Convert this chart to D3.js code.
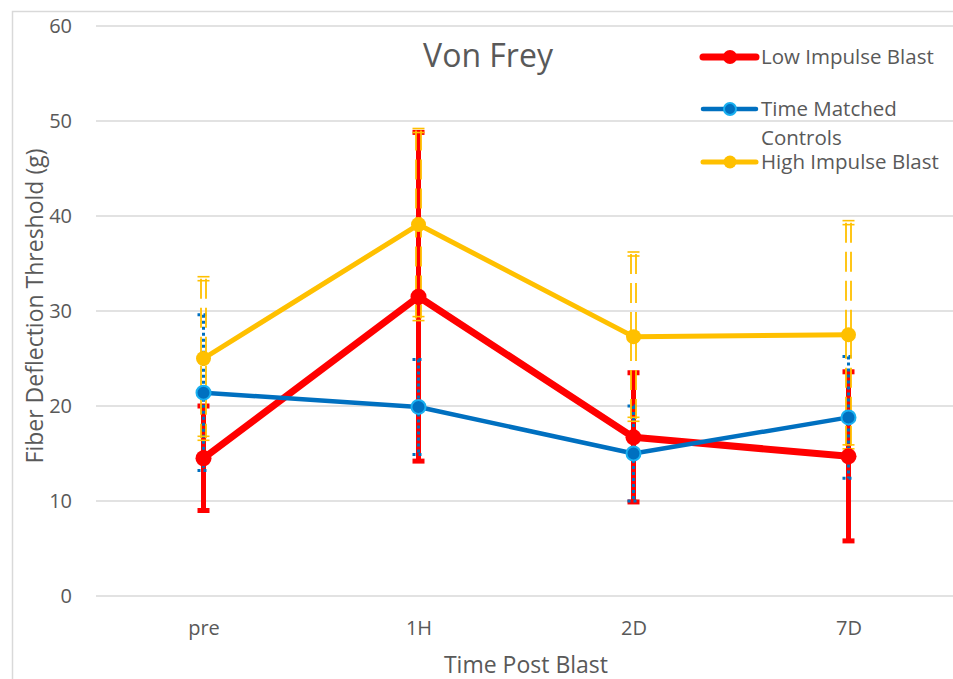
<!DOCTYPE html>
<html>
<head>
<meta charset="utf-8">
<script src="https://cdn.jsdelivr.net/npm/d3@7"></script>
<style>
  body { margin: 0; background: #fff; }
  text { font-family: "Open Sans", "Noto Sans", sans-serif; fill: #595959; }
</style>
</head>
<body>
<svg id="chart" width="953" height="679"></svg>
<script>
// ------------------ DATA ------------------
const categories = ["pre", "1H", "2D", "7D"];
const yTicks = [0, 10, 20, 30, 40, 50, 60];

const lowImpulse = [14.5, 31.5, 16.7, 14.7];
const lowImpulseErr = [5.5, 17.3, 6.8, 8.9];

const timeMatched = [21.4, 19.9, 15.0, 18.8];
const timeMatchedErr = [8.2, 5.0, 5.0, 6.4];

const highImpulse = [25.0, 39.1, 27.3, 27.5];
const highImpulseErr = [8.4, 9.9, 8.7, 11.8];

const seriesNames = ["Low Impulse Blast", "Time Matched Controls", "High Impulse Blast"];

// ------------------ SETUP ------------------
let svg = d3.select("#chart");

let x = d3.scalePoint().domain(categories).range([96, 956]).padding(0.5);
let y = d3.scaleLinear().domain([0, 60]).range([596, 26]);

let series = [
    { name: seriesNames[0], values: lowImpulse, err: lowImpulseErr, color: "#ff0000", width: 7, r: 8, style: "solid" },
    { name: seriesNames[1], values: timeMatched, err: timeMatchedErr, color: "#0070c0", width: 4.5, r: 7, style: "dot", ring: "#1ab0f0" },
    { name: seriesNames[2], values: highImpulse, err: highImpulseErr, color: "#ffc000", width: 5, r: 7.5, style: "double" }
];

// chart border
svg.append("rect")
    .attr("x", 12.5).attr("y", 11.5)
    .attr("width", 960).attr("height", 700)
    .attr("fill", "none").attr("stroke", "#d9d9d9").attr("stroke-width", 1.5);

// gridlines
svg.append("g")
    .selectAll("line")
    .data(yTicks)
    .enter().append("line")
    .attr("x1", 96).attr("x2", 953)
    .attr("y1", (d) => y(d)).attr("y2", (d) => y(d))
    .attr("stroke", "#d9d9d9").attr("stroke-width", 1.5);

// y axis
let yAxis = svg.append("g")
    .attr("transform", "translate(96,0)")
    .call(d3.axisLeft(y).tickValues(yTicks).tickSize(0).tickPadding(24));
yAxis.select(".domain").remove();
yAxis.selectAll("text").attr("font-size", 20).attr("fill", "#595959")
    .style("font-family", "'Open Sans', sans-serif");

// x axis
let xAxis = svg.append("g")
    .attr("transform", "translate(0,596)")
    .call(d3.axisBottom(x).tickSize(0).tickPadding(25));
xAxis.select(".domain").remove();
xAxis.selectAll("text").attr("font-size", 20).attr("fill", "#595959")
    .style("font-family", "'Open Sans', sans-serif");

// axis titles
svg.append("text")
    .attr("transform", "translate(43,306) rotate(-90)")
    .attr("text-anchor", "middle")
    .attr("font-size", 23)
    .text("Fiber Deflection Threshold (g)");

svg.append("text")
    .attr("x", 526).attr("y", 673)
    .attr("text-anchor", "middle")
    .attr("font-size", 23)
    .text("Time Post Blast");

// title
svg.append("text")
    .attr("x", 488).attr("y", 67)
    .attr("text-anchor", "middle")
    .attr("font-size", 32)
    .text("Von Frey");

// ------------------ ERROR BARS ------------------
function drawErrorBars(s) {
    let g = svg.append("g").attr("class", "err");
    s.values.forEach(function (v, i) {
        let cx = x(categories[i]);
        let top = y(v + s.err[i]);
        let bot = y(v - s.err[i]);
        if (s.style == "solid") {
            g.append("line").attr("x1", cx).attr("x2", cx).attr("y1", top).attr("y2", bot)
                .attr("stroke", s.color).attr("stroke-width", 5);
            [top, bot].forEach(function (yy) {
                g.append("line").attr("x1", cx - 6).attr("x2", cx + 6).attr("y1", yy).attr("y2", yy)
                    .attr("stroke", s.color).attr("stroke-width", 5);
            });
        }
        else if (s.style == "dot") {
            g.append("line").attr("x1", cx).attr("x2", cx).attr("y1", top).attr("y2", bot)
                .attr("stroke", s.color).attr("stroke-width", 3).attr("stroke-dasharray", "3,3");
            [top, bot].forEach(function (yy) {
                g.append("line").attr("x1", cx - 6).attr("x2", cx + 6).attr("y1", yy).attr("y2", yy)
                    .attr("stroke", s.color).attr("stroke-width", 3).attr("stroke-dasharray", "3,3");
            });
        }
        else {
            [-2.5, 2.5].forEach(function (off) {
                g.append("line").attr("x1", cx + off).attr("x2", cx + off).attr("y1", top).attr("y2", bot)
                    .attr("stroke", s.color).attr("stroke-width", 1.8).attr("stroke-dasharray", "20,9");
            });
            [top, bot].forEach(function (yy) {
                [-2, 2].forEach(function (off) {
                    g.append("line").attr("x1", cx - 6).attr("x2", cx + 6).attr("y1", yy + off).attr("y2", yy + off)
                        .attr("stroke", s.color).attr("stroke-width", 1.6);
                });
            });
        }
    });
}

series.forEach(drawErrorBars);

// ------------------ LINES + MARKERS ------------------
let line = d3.line()
    .x((d, i) => x(categories[i]))
    .y((d) => y(d));

series.forEach(function (s) {
    svg.append("path")
        .datum(s.values)
        .attr("d", line)
        .attr("fill", "none")
        .attr("stroke", s.color)
        .attr("stroke-width", s.width)
        .attr("stroke-linejoin", "round");

    svg.append("g")
        .selectAll("circle")
        .data(s.values)
        .enter().append("circle")
        .attr("cx", (d, i) => x(categories[i]))
        .attr("cy", (d) => y(d))
        .attr("r", s.r)
        .attr("fill", s.color)
        .attr("stroke", s.ring ? s.ring : s.color)
        .attr("stroke-width", s.ring ? 2 : 0);
});

// ------------------ LEGEND ------------------
let legendY = [57, 109, 162];
let legend = svg.append("g");
series.forEach(function (s, i) {
    let ly = legendY[i];
    legend.append("line")
        .attr("x1", 703).attr("x2", 756).attr("y1", ly).attr("y2", ly)
        .attr("stroke", s.color).attr("stroke-width", s.width)
        .attr("stroke-linecap", "round");
    legend.append("circle")
        .attr("cx", 730).attr("cy", ly).attr("r", s.r - 1)
        .attr("fill", s.color)
        .attr("stroke", s.ring ? s.ring : s.color)
        .attr("stroke-width", s.ring ? 2 : 0);
});
legend.append("text").attr("x", 761).attr("y", 64).attr("font-size", 20.5).text("Low Impulse Blast");
legend.append("text").attr("x", 761).attr("y", 116).attr("font-size", 20.5).text("Time Matched");
legend.append("text").attr("x", 761).attr("y", 145).attr("font-size", 20.5).text("Controls");
legend.append("text").attr("x", 761).attr("y", 169).attr("font-size", 20.5).text("High Impulse Blast");
</script>
</body>
</html>
